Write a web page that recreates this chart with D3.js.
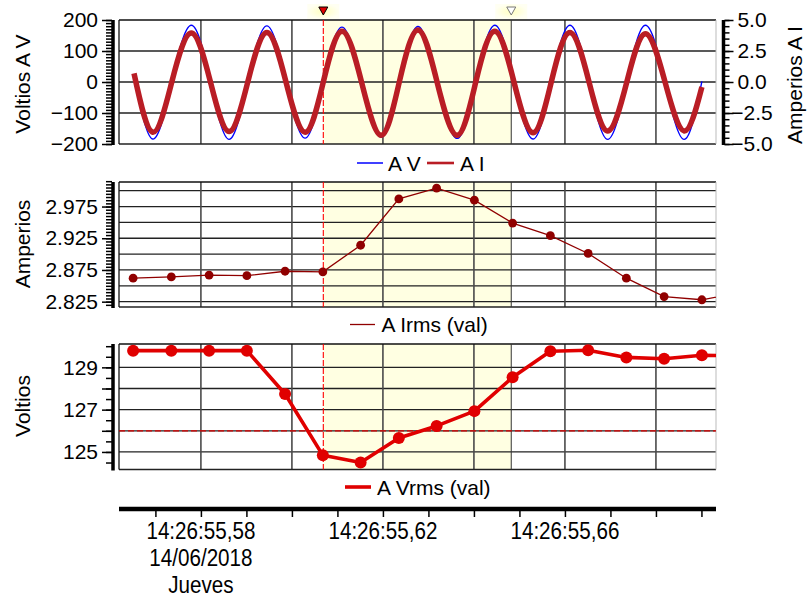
<!DOCTYPE html>
<html>
<head>
<meta charset="utf-8">
<script src="https://cdn.jsdelivr.net/npm/d3@7"></script>
<style>
  body { margin: 0; background: #fff; }
  svg { display: block; font-family: "Liberation Sans", Arial, sans-serif; }
</style>
</head>
<body>
<svg id="chart" width="807" height="598"></svg>
<script>
// Times are milliseconds after 14:26:55 on 14/06/2018.

// Waveform key points (extremes and zero crossings), top panel
const waveTimes = [565.3, 569.4, 573.6, 577.9, 582.1, 586.2, 590.3, 594.5, 598.7, 602.9,
                   606.9, 611.0, 615.3, 619.6, 623.6, 627.7, 631.9, 636.3, 640.4, 644.6,
                   648.8, 653.0, 657.0, 661.1, 665.3, 669.4, 673.6, 677.7, 682.0, 686.2, 690.1];
const voltsA = [25, -184, 0, 183, 0, -185, 0, 181, 0, -181,
                0, 177, 0, -178, 0, 179, 0, -182, 0, 183,
                0, -184, 0, 183, 0, -185, 0, 183, 0, -185, 2];
const ampsA = [0.7, -4.05, 0, 3.95, 0, -4.0, 0, 4.0, 0, -4.05,
               0, 4.1, 0, -4.3, 0, 4.2, 0, -4.3, 0, 4.1,
               0, -4.1, 0, 4.0, 0, -3.95, 0, 3.9, 0, -3.95, -0.4];

// Half-cycle RMS values
const rmsTimes = [565.1, 573.5, 581.8, 590.1, 598.5, 606.8, 615.1, 623.5, 631.8, 640.1,
                  648.5, 656.8, 665.1, 673.5, 681.8, 690.1, 698.5];
const irms = [2.862, 2.864, 2.867, 2.866, 2.873, 2.872, 2.914, 2.987, 3.004, 2.985,
              2.949, 2.929, 2.901, 2.862, 2.833, 2.828, 2.839];
const vrms = [129.79, 129.79, 129.79, 129.79, 127.74, 124.84, 124.50, 125.66, 126.23, 126.93,
              128.53, 129.76, 129.81, 129.47, 129.41, 129.57, 129.54];

// Axis ticks
const timeLabelTicks = [580, 620, 660];
const timeMinorTicks = [570, 580, 590, 600, 610, 620, 630, 640, 650, 660, 670, 680, 690];
const timeGrid = [580, 600, 620, 640, 660, 680];
const voltWaveTicks = [-200, -100, 0, 100, 200];
const ampWaveTicks = [-5, -2.5, 0, 2.5, 5];
const irmsTicks = [2.825, 2.875, 2.925, 2.975];
const irmsGrid = [2.825, 2.85, 2.875, 2.9, 2.925, 2.95, 2.975, 3.0];
const vrmsTicks = [125, 126, 127, 128, 129];
const vrmsLabelTicks = [125, 127, 129];

// Cursors and threshold
const cursorA = 606.9, cursorB = 648.2;
const voltThreshold = 126;

const svg = d3.select("#chart");
const X0 = 119, X1 = 716;
const SPINE_L = 113, SPINE_R = 723.5;

const x = d3.scaleLinear().domain([562.0, 693.2]).range([X0, X1]);

const panels = [
  { top: 20, bottom: 144 },
  { top: 182, bottom: 307 },
  { top: 344, bottom: 469.5 }
];

const yV = d3.scaleLinear().domain([-200, 200]).range([144, 20]);
const yI = d3.scaleLinear().domain([-5, 5]).range([144, 20]);
const yIrms = d3.scaleLinear().domain([2.8166, 3.0137]).range([307, 182]);
const yVrms = d3.scaleLinear().domain([124.17, 130.104]).range([469.5, 344]);

const RED_I = "#B91D25", BLUE = "#0000FF", IRMS = "#900000", VRMS = "#E00000";

const defs = svg.append("defs");
panels.forEach((p, i) => {
  defs.append("clipPath").attr("id", "clip" + i)
    .append("rect").attr("x", X0).attr("y", p.top - 8)
    .attr("width", X1 - X0).attr("height", p.bottom - p.top + 16);
});
const grad = defs.append("radialGradient").attr("id", "flag");
grad.append("stop").attr("offset", "0%").attr("stop-color", "#FFFFC0");
grad.append("stop").attr("offset", "100%").attr("stop-color", "#FFFFF2");

// Panel backgrounds, grids and frames
function drawFrame(p, yScale, hGrid) {
  const g = svg.append("g");
  g.append("rect").attr("x", x(cursorA)).attr("y", p.top)
    .attr("width", x(cursorB) - x(cursorA)).attr("height", p.bottom - p.top)
    .attr("fill", "#FFFFE2");
  g.selectAll(".hg").data(hGrid).join("line")
    .attr("x1", X0).attr("x2", X1)
    .attr("y1", d => yScale(d)).attr("y2", d => yScale(d))
    .attr("stroke", "#222").attr("stroke-width", 1.3);
  g.selectAll(".vg").data(timeGrid).join("line")
    .attr("x1", d => x(d)).attr("x2", d => x(d))
    .attr("y1", p.top).attr("y2", p.bottom)
    .attr("stroke", "#4a4a4a").attr("stroke-width", 1.6);
  g.append("line").attr("x1", X0).attr("x2", X1).attr("y1", p.top).attr("y2", p.top)
    .attr("stroke", "#111").attr("stroke-width", 1.3);
  g.append("line").attr("x1", X0).attr("x2", X1).attr("y1", p.bottom).attr("y2", p.bottom)
    .attr("stroke", "#222").attr("stroke-width", 1.3);
  g.append("line").attr("x1", X0).attr("x2", X0).attr("y1", p.top).attr("y2", p.bottom)
    .attr("stroke", "#111").attr("stroke-width", 1.3);
  g.append("line").attr("x1", X1).attr("x2", X1).attr("y1", p.top).attr("y2", p.bottom)
    .attr("stroke", "#bbb").attr("stroke-width", 1);
  // cursor B (solid)
  g.append("line").attr("x1", x(cursorB)).attr("x2", x(cursorB))
    .attr("y1", p.top).attr("y2", p.bottom).attr("stroke", "#333").attr("stroke-width", 1);
  return g;
}
// cursor A (red dashed)
function drawCursorA(p) {
  svg.append("line").attr("x1", x(cursorA)).attr("x2", x(cursorA))
    .attr("y1", p.top).attr("y2", p.bottom)
    .attr("stroke", "#FF0000").attr("stroke-width", 1.1).attr("stroke-dasharray", "6,2");
}

drawFrame(panels[0], yV, [-100, 0, 100]);
drawFrame(panels[1], yIrms, irmsGrid);
drawFrame(panels[2], yVrms, vrmsTicks);

// threshold line
svg.append("line").attr("x1", X0).attr("x2", X1)
  .attr("y1", yVrms(voltThreshold)).attr("y2", yVrms(voltThreshold))
  .attr("stroke", "#E00000").attr("stroke-width", 1.3).attr("stroke-dasharray", "6,3");

panels.forEach(drawCursorA);

// Waveforms
const wave = waveTimes.map((t, i) => ({ t, v: voltsA[i], a: ampsA[i] }));
svg.append("path").datum(wave)
  .attr("d", d3.line().x(d => x(d.t)).y(d => yV(d.v)).curve(d3.curveNatural))
  .attr("fill", "none").attr("stroke", BLUE).attr("stroke-width", 1.4);
svg.append("path").datum(wave)
  .attr("d", d3.line().x(d => x(d.t)).y(d => yI(d.a)).curve(d3.curveNatural))
  .attr("fill", "none").attr("stroke", RED_I).attr("stroke-width", 5.5)
  .attr("stroke-linejoin", "round");

// RMS series
const rms = rmsTimes.map((t, i) => ({ t, i: irms[i], v: vrms[i] }));
const inView = rms.filter(d => d.t <= x.domain()[1]);

const g2 = svg.append("g").attr("clip-path", "url(#clip1)");
g2.append("path").datum(rms)
  .attr("d", d3.line().x(d => x(d.t)).y(d => yIrms(d.i)))
  .attr("fill", "none").attr("stroke", IRMS).attr("stroke-width", 1.3);
g2.selectAll("circle").data(inView).join("circle")
  .attr("cx", d => x(d.t)).attr("cy", d => yIrms(d.i)).attr("r", 4.4).attr("fill", IRMS);

const g3 = svg.append("g").attr("clip-path", "url(#clip2)");
g3.append("path").datum(rms)
  .attr("d", d3.line().x(d => x(d.t)).y(d => yVrms(d.v)))
  .attr("fill", "none").attr("stroke", VRMS).attr("stroke-width", 3.6).attr("stroke-linejoin", "round");
g3.selectAll("circle").data(inView).join("circle")
  .attr("cx", d => x(d.t)).attr("cy", d => yVrms(d.v)).attr("r", 6).attr("fill", VRMS);

// Axes
function styleAxis(g) {
  g.select(".domain").remove();
  g.selectAll(".tick line").attr("stroke", "#000").attr("stroke-width", 1.5);
  g.selectAll(".tick text").attr("font-size", 21).attr("fill", "#000")
    .attr("font-family", "'Liberation Sans', Arial, sans-serif");
}
function leftAxis(scale, p, major, minor, fmt) {
  const gMin = svg.append("g").attr("transform", `translate(${SPINE_L - 1},0)`)
    .call(d3.axisLeft(scale).tickValues(minor).tickSize(6).tickFormat(""));
  styleAxis(gMin);
  const gMaj = svg.append("g").attr("transform", `translate(${SPINE_L - 1},0)`)
    .call(d3.axisLeft(scale).tickValues(major).tickSize(10).tickPadding(4).tickFormat(fmt));
  styleAxis(gMaj);
  svg.append("line").attr("x1", SPINE_L).attr("x2", SPINE_L)
    .attr("y1", p.top).attr("y2", p.bottom + 1)
    .attr("stroke", "#000").attr("stroke-width", 3.5);
}

leftAxis(yV, panels[0], voltWaveTicks, d3.range(-200, 201, 10), d3.format("d"));
leftAxis(yIrms, panels[1], irmsTicks, d3.range(2.82, 3.0151, 0.005), d3.format(".3f"));
leftAxis(yVrms, panels[2], vrmsTicks, d3.range(124.5, 130.01, 0.5),
  d => vrmsLabelTicks.includes(d) ? String(d) : "");

// Right axis for current
{
  const p = panels[0];
  const gMin = svg.append("g").attr("transform", `translate(${SPINE_R + 1},0)`)
    .call(d3.axisRight(yI).tickValues(d3.range(-5, 5.01, 0.5)).tickSize(5).tickFormat(""));
  styleAxis(gMin);
  const gMaj = svg.append("g").attr("transform", `translate(${SPINE_R + 1},0)`)
    .call(d3.axisRight(yI).tickValues(ampWaveTicks).tickSize(9).tickFormat(d3.format(".1f")));
  styleAxis(gMaj);
  gMaj.selectAll(".tick text").attr("text-anchor", "middle").attr("x", 752 - SPINE_R - 1);
  svg.append("line").attr("x1", SPINE_R).attr("x2", SPINE_R)
    .attr("y1", p.top).attr("y2", p.bottom + 1)
    .attr("stroke", "#000").attr("stroke-width", 3.5);
}

// Axis titles
function vTitle(text, tx, ty) {
  svg.append("text").attr("transform", `translate(${tx},${ty}) rotate(-90)`)
    .attr("text-anchor", "middle").attr("font-size", 21).attr("fill", "#000").text(text);
}
vTitle("Voltios A V", 30, 84);
vTitle("Amperios", 30, 244);
vTitle("Voltios", 30, 406);
vTitle("Amperios A I", 802, 85);

// Legends
function legendItem(x1, x2, ly, color, width, label, tx) {
  svg.append("line").attr("x1", x1).attr("x2", x2).attr("y1", ly).attr("y2", ly)
    .attr("stroke", color).attr("stroke-width", width);
  svg.append("text").attr("x", tx).attr("y", ly + 7.5).attr("font-size", 21)
    .attr("fill", "#000").text(label);
}
legendItem(357, 383, 163, BLUE, 1.5, "A V", 388);
legendItem(427, 454, 163, RED_I, 2.6, "A I", 460);
legendItem(350, 375, 324.5, IRMS, 1.3, "A Irms (val)", 381.5);
legendItem(345, 371, 487, VRMS, 3.6, "A Vrms (val)", 377);

// Time axis
{
  const ay = 509;
  const gT = svg.append("g").attr("transform", `translate(0,${ay})`)
    .call(d3.axisBottom(x).tickValues(timeMinorTicks).tickSize(8).tickFormat(""));
  styleAxis(gT);
  svg.append("line").attr("x1", X0).attr("x2", X1).attr("y1", ay).attr("y2", ay)
    .attr("stroke", "#000").attr("stroke-width", 4.5);
  const fmtTime = t => "14:26:55," + d3.format("02d")(Math.round(t / 10));
  timeLabelTicks.forEach((t, i) => {
    const lines = [fmtTime(t)];
    if (i === 0) lines.push("14/06/2018", "Jueves");
    lines.forEach((s, j) => {
      svg.append("text")
        .attr("transform", `translate(${x(t)},${539 + j * 27}) scale(0.86,1)`)
        .attr("text-anchor", "middle").attr("font-size", 24).attr("fill", "#000").text(s);
    });
  });
}

// Cursor flags above the waveform panel
function flag(t, fill, stroke) {
  const cx = x(t);
  svg.append("rect").attr("x", cx - 16).attr("y", 4).attr("width", 32).attr("height", 15)
    .attr("fill", "url(#flag)");
  svg.append("path")
    .attr("d", d3.line()([[cx - 4.5, 7], [cx + 4.5, 7], [cx, 15]]) + "Z")
    .attr("fill", fill).attr("stroke", stroke).attr("stroke-width", 1);
}
flag(cursorA, "#E00000", "#000");
flag(cursorB, "#fff", "#777");
</script>
</body>
</html>
